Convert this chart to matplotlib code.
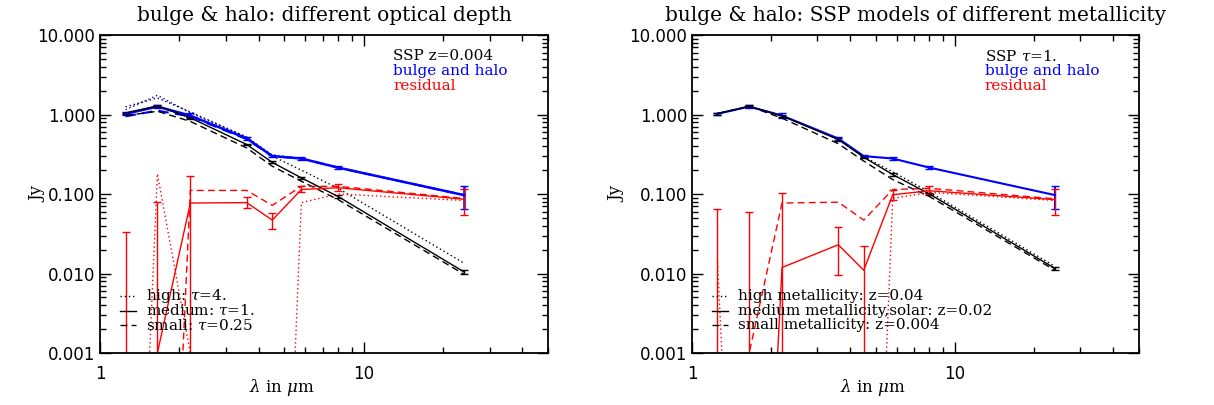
"""Bulge & halo SED fits: optical depth vs. SSP metallicity (two panels)."""

import matplotlib

matplotlib.use("Agg")
import matplotlib.pyplot as plt
from matplotlib.ticker import FixedLocator, FormatStrFormatter, LogLocator, NullFormatter

# ── data ──────────────────────────────────────────────────────────────
# 1e-10 stands in for values that fall below the plotted range (negative)
wavelength = [1.25, 1.65, 2.2, 3.6, 4.5, 5.8, 8.0, 24.0]

# observed bulge + halo flux (Jy), with error bounds
halo_flux = [1.02, 1.26, 0.97, 0.50, 0.30, 0.28, 0.215, 0.097]
halo_lo = [0.99, 1.21, 0.90, 0.48, 0.29, 0.265, 0.205, 0.064]
halo_hi = [1.05, 1.31, 1.04, 0.52, 0.31, 0.295, 0.225, 0.127]

# left panel: optical depth tau = 4, 1, 0.25
tau_halo_high = [1.15, 1.75, 1.05, 0.52, 0.31, 0.28, 0.215, 0.097]
tau_halo_small = [0.95, 1.12, 0.95, 0.49, 0.30, 0.28, 0.215, 0.097]
tau_ssp_high = [1.25, 1.62, 1.08, 0.52, 0.30, 0.20, 0.118, 0.0135]
tau_ssp_medium = [1.05, 1.28, 0.91, 0.42, 0.25, 0.16, 0.093, 0.0105]
tau_ssp_small = [0.97, 1.10, 0.82, 0.38, 0.224, 0.145, 0.085, 0.0098]
tau_ssp_lo = [1.02, 1.25, 0.89, 0.41, 0.243, 0.155, 0.090, 0.0099]
tau_ssp_hi = [1.08, 1.31, 0.93, 0.43, 0.257, 0.165, 0.096, 0.0111]
tau_res_high = [1e-10, 0.18, 0.001, 1e-10, 1e-10, 0.078, 0.10, 0.083]
tau_res_medium = [1e-10, 0.001, 0.077, 0.078, 0.047, 0.114, 0.12, 0.086]
tau_res_small = [1e-10, 1e-10, 0.111, 0.111, 0.072, 0.125, 0.125, 0.088]
tau_res_lo = [1e-10, 1e-10, 1e-10, 0.066, 0.036, 0.105, 0.109, 0.054]
tau_res_hi = [0.033, 0.079, 0.167, 0.093, 0.057, 0.128, 0.135, 0.116]

# right panel: metallicity z = 0.04, 0.02, 0.004
z_ssp_high = [1.03, 1.27, 0.97, 0.49, 0.295, 0.19, 0.106, 0.0123]
z_ssp_medium = [1.03, 1.27, 0.96, 0.485, 0.29, 0.176, 0.10, 0.0116]
z_ssp_small = [1.03, 1.27, 0.90, 0.43, 0.26, 0.152, 0.093, 0.0110]
z_ssp_lo = [1.00, 1.24, 0.93, 0.47, 0.28, 0.170, 0.097, 0.0110]
z_ssp_hi = [1.06, 1.30, 0.99, 0.50, 0.30, 0.182, 0.103, 0.0122]
z_res_high = [0.014, 1e-10, 1e-10, 1e-10, 1e-10, 0.088, 0.105, 0.083]
z_res_medium = [1e-10, 1e-10, 0.0119, 0.023, 0.011, 0.098, 0.11, 0.085]
z_res_small = [1e-10, 0.001, 0.077, 0.079, 0.047, 0.114, 0.118, 0.087]
z_res_lo = [1e-10, 1e-10, 1e-10, 0.0097, 1e-10, 0.083, 0.10, 0.054]
z_res_hi = [0.064, 0.060, 0.104, 0.038, 0.0225, 0.113, 0.125, 0.116]

y_ticks = [0.001, 0.01, 0.1, 1.0, 10.0]
x_ticks = [1, 10]

DOT = (0, (1, 2))
DASH = (0, (5, 3))
SERIF = "DejaVu Serif"

plt.rcParams["font.family"] = "DejaVu Sans"
plt.rcParams["mathtext.fontset"] = "dejavuserif"


def _err(vals, lo, hi):
    return [[v - l for v, l in zip(vals, lo)], [h - v for v, h in zip(vals, hi)]]


def _style_axes(ax, title, ylab_x):
    ax.set_xscale("log")
    ax.set_yscale("log")
    ax.set_xlim(1, 50)
    ax.set_ylim(0.001, 10)
    ax.xaxis.set_major_locator(FixedLocator(x_ticks))
    ax.xaxis.set_major_formatter(FormatStrFormatter("%d"))
    ax.xaxis.set_minor_locator(LogLocator(base=10, subs=range(2, 10)))
    ax.xaxis.set_minor_formatter(NullFormatter())
    ax.yaxis.set_major_locator(FixedLocator(y_ticks))
    ax.yaxis.set_major_formatter(FormatStrFormatter("%.3f"))
    ax.yaxis.set_minor_locator(LogLocator(base=10, subs=range(2, 10)))
    ax.yaxis.set_minor_formatter(NullFormatter())
    ax.tick_params(which="both", direction="in", top=True, right=True, width=1.0)
    ax.tick_params(which="major", length=8, labelsize=12)
    ax.tick_params(axis="x", which="major", pad=9)
    ax.tick_params(which="minor", length=4.5)
    for sp in ax.spines.values():
        sp.set_linewidth(1.3)
    ax.set_title(title, fontsize=14.5, family=SERIF, pad=10)
    ax.text(0.406, -0.107, r"$\lambda$ in $\mu$m", transform=ax.transAxes,
            ha="center", va="center", fontsize=12, family=SERIF)
    ax.text(ylab_x, 0.5, "Jy", transform=ax.transAxes, rotation=90,
            ha="center", va="center", fontsize=12, family=SERIF)


def _labels(ax, header, rows, x0):
    for y, txt, c in zip([0.933, 0.886, 0.839], [header, "bulge and halo", "residual"],
                         ["black", "blue", "red"]):
        ax.text(x0, y, txt, color=c, transform=ax.transAxes, fontsize=11,
                family=SERIF, va="center")
    for y, txt, ls in zip([0.178, 0.133, 0.088], rows, [DOT, "-", DASH]):
        ax.plot([0.045, 0.08], [y, y], color="black", lw=1.0, ls=ls,
                transform=ax.transAxes)
        ax.text(0.103, y, txt, transform=ax.transAxes, fontsize=11,
                family=SERIF, va="center")


fig = plt.figure(figsize=(12.14, 4.05), dpi=100)
ax1 = fig.add_axes([0.0824, 0.1284, 0.369, 0.785])
ax2 = fig.add_axes([0.570, 0.1284, 0.368, 0.785])

# ── left: optical depth ──
ax1.plot(wavelength, tau_halo_high, color="blue", lw=1.0, ls=DOT)
ax1.plot(wavelength, tau_halo_small, color="blue", lw=1.5, ls=DASH)
ax1.errorbar(wavelength, halo_flux, yerr=_err(halo_flux, halo_lo, halo_hi),
             color="blue", lw=1.8, capsize=3)
ax1.plot(wavelength, tau_ssp_high, color="black", lw=1.0, ls=DOT)
ax1.plot(wavelength, tau_ssp_small, color="black", lw=1.0, ls=DASH)
ax1.errorbar(wavelength, tau_ssp_medium, yerr=_err(tau_ssp_medium, tau_ssp_lo, tau_ssp_hi),
             color="black", lw=1.0, capsize=3)
ax1.plot(wavelength, tau_res_high, color="red", lw=1.0, ls=DOT)
ax1.plot(wavelength, tau_res_small, color="red", lw=1.0, ls=DASH)
ax1.errorbar(wavelength, tau_res_medium, yerr=_err(tau_res_medium, tau_res_lo, tau_res_hi),
             color="red", lw=1.0, capsize=3)
_style_axes(ax1, "bulge & halo: different optical depth", -0.138)
_labels(ax1, "SSP z=0.004",
        [r"high: $\tau$=4.", r"medium: $\tau$=1.", r"small: $\tau$=0.25"], 0.654)

# ── right: metallicity ──
ax2.errorbar(wavelength, halo_flux, yerr=_err(halo_flux, halo_lo, halo_hi),
             color="blue", lw=1.5, capsize=3)
ax2.plot(wavelength, z_ssp_high, color="black", lw=1.0, ls=DOT)
ax2.plot(wavelength, z_ssp_small, color="black", lw=1.0, ls=DASH)
ax2.errorbar(wavelength, z_ssp_medium, yerr=_err(z_ssp_medium, z_ssp_lo, z_ssp_hi),
             color="black", lw=1.0, capsize=3)
ax2.plot(wavelength, z_res_high, color="red", lw=1.0, ls=DOT)
ax2.plot(wavelength, z_res_small, color="red", lw=1.0, ls=DASH)
ax2.errorbar(wavelength, z_res_medium, yerr=_err(z_res_medium, z_res_lo, z_res_hi),
             color="red", lw=1.0, capsize=3)
_style_axes(ax2, "bulge & halo: SSP models of different metallicity", -0.168)
_labels(ax2, r"SSP $\tau$=1.",
        ["high metallicity: z=0.04", "medium metallicity,solar: z=0.02",
         "small metallicity: z=0.004"], 0.655)

fig.savefig("out.png", dpi=100)
